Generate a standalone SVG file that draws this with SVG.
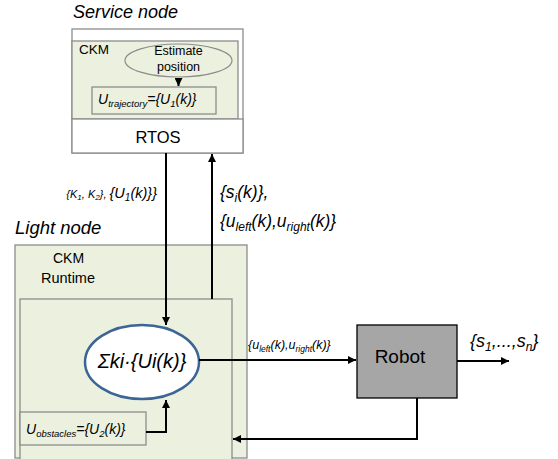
<svg xmlns="http://www.w3.org/2000/svg" width="558" height="459" viewBox="0 0 558 459">
<style>
text{font-family:"Liberation Sans",Arial,sans-serif;fill:#000}
.it{font-style:italic}
.box{fill:#ebf1de;stroke:#8c8c8c;stroke-width:1.3}
.wbox{fill:#fff;stroke:#8c8c8c;stroke-width:1.3}
.ln{fill:none;stroke:#000;stroke-width:2}
</style>
<defs>
<marker id="ah" viewBox="0 0 10 10" refX="10" refY="5" markerWidth="4" markerHeight="4" orient="auto" markerUnits="strokeWidth">
<path d="M0,0L10,5L0,10z" fill="#000"/>
</marker>
</defs>
<rect width="558" height="459" fill="#fff"/>

<g id="service-node">
<text class="it" x="73" y="18" font-size="18">Service node</text>
<rect class="wbox" x="72" y="29" width="171" height="124"/>
<rect class="box" x="72" y="41" width="166" height="78"/>
<rect class="wbox" x="72" y="119" width="171" height="34"/>
<text x="79" y="54" font-size="13.5">CKM</text>
<text x="158" y="143" font-size="16.5" text-anchor="middle">RTOS</text>
</g>

<g id="estimate-position">
<ellipse cx="178.5" cy="60.5" rx="53.5" ry="16.5" fill="#ebf1de" stroke="#8c8c8c" stroke-width="1.2"/>
<text x="178.5" y="55" font-size="12.5" text-anchor="middle" fill="#333">Estimate</text>
<text x="178.5" y="71" font-size="12.5" text-anchor="middle" fill="#333">position</text>
</g>

<g id="u-trajectory">
<rect class="box" x="92" y="87" width="124" height="27"/>
<text class="it" x="98" y="104" font-size="14" fill="#333">U<tspan font-size="9.5" dy="3">trajectory</tspan><tspan dy="-3">={U</tspan><tspan font-size="9.5" dy="3">1</tspan><tspan dy="-3">(k)}</tspan></text>
</g>

<g id="light-node">
<text class="it" x="15" y="234" font-size="18.5">Light node</text>
<rect class="box" x="15" y="245" width="232" height="213"/>
<text x="53" y="263" font-size="14">CKM</text>
<text x="41" y="283" font-size="14.5">Runtime</text>
<rect class="box" x="20" y="299" width="212" height="162"/>
</g>

<g id="sum">
<ellipse cx="142" cy="362" rx="57" ry="37" fill="#fff" stroke="#3b6595" stroke-width="2.5"/>
<text class="it" x="142" y="368" font-size="20" text-anchor="middle">Σki·{Ui(k)}</text>
</g>

<g id="u-obstacles">
<rect class="box" x="20" y="412" width="126" height="33"/>
<text class="it" x="26" y="434" font-size="14" fill="#333">U<tspan font-size="9.5" dy="3">obstacles</tspan><tspan dy="-3">={U</tspan><tspan font-size="9.5" dy="3">2</tspan><tspan dy="-3">(k)}</tspan></text>
</g>

<g id="robot">
<rect x="357" y="325" width="100" height="73" fill="#a6a6a6" stroke="#000" stroke-width="1.3"/>
<text x="400" y="363" font-size="19" text-anchor="middle">Robot</text>
</g>

<g id="connectors">
<path class="ln" d="M178.5,78V86" stroke-width="1.3" marker-end="url(#ah)"/>
<path class="ln" d="M166,153V325" marker-end="url(#ah)"/>
<path class="ln" d="M212,299V154" marker-end="url(#ah)"/>
<path class="ln" d="M146,432H166V400" marker-end="url(#ah)"/>
<path class="ln" d="M199,360H356" marker-end="url(#ah)"/>
<path class="ln" d="M457,361H509" marker-end="url(#ah)"/>
<path class="ln" d="M417,398V439H233" marker-end="url(#ah)"/>
</g>

<g id="labels">
<text class="it" x="157" y="198" font-size="11" text-anchor="end" fill="#333">{K<tspan font-size="8" dy="2">1</tspan><tspan dy="-2">, K</tspan><tspan font-size="8" dy="2">2</tspan><tspan dy="-2">}, </tspan><tspan font-size="14.5">{U</tspan><tspan font-size="10" dy="3">1</tspan><tspan font-size="14.5" dy="-3">(k)}}</tspan></text>
<text class="it" x="220" y="198" font-size="17.5" fill="#222">{s<tspan font-size="12" dy="4">i</tspan><tspan dy="-4">(k)},</tspan></text>
<text class="it" x="220" y="227" font-size="17.5" fill="#222">{u<tspan font-size="12" dy="4">left</tspan><tspan dy="-4">(k),u</tspan><tspan font-size="12" dy="4">right</tspan><tspan dy="-4">(k)}</tspan></text>
<text class="it" x="248" y="349" font-size="12.5" fill="#333">{u<tspan font-size="8.5" dy="3">left</tspan><tspan dy="-3">(k),u</tspan><tspan font-size="8.5" dy="3">right</tspan><tspan dy="-3">(k)}</tspan></text>
<text class="it" x="470" y="347" font-size="18" fill="#222">{s<tspan font-size="12" dy="4">1</tspan><tspan dy="-4">,...,s</tspan><tspan font-size="12" dy="4">n</tspan><tspan dy="-4">}</tspan></text>
</g>
</svg>
